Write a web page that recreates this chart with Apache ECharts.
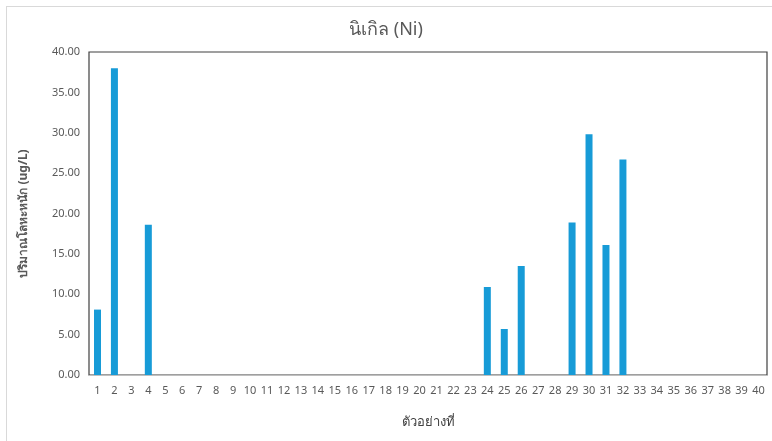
<!DOCTYPE html>
<html>
<head>
<meta charset="utf-8">
<script src="https://cdn.jsdelivr.net/npm/echarts@6/dist/echarts.min.js"></script>
<style>
html,body{margin:0;padding:0;background:#fff;}
#wrap{position:absolute;left:6px;top:6px;width:780px;height:440px;border:1px solid #d9d9d9;box-sizing:border-box;}
#chart{position:absolute;left:0;top:0;width:772px;height:441px;}
</style>
</head>
<body>
<div id="wrap"></div>
<div id="chart"></div>
<script>
const categories = [];
for (let i = 1; i <= 40; i++) categories.push(String(i));
const sampleIds = [1, 2, 4, 24, 25, 26, 29, 30, 31, 32];
const nickelValues = [8.1, 38.0, 18.6, 10.9, 5.7, 13.5, 18.9, 29.8, 16.1, 26.7];
const yTicks = { min: 0, max: 40, interval: 5 };

const seriesData = categories.map(c => {
  const idx = sampleIds.indexOf(Number(c));
  return idx >= 0 ? nickelValues[idx] : null;
});

const chart = echarts.init(document.getElementById('chart'), null, { renderer: 'canvas' });
chart.setOption({
  backgroundColor: 'transparent',
  animation: false,
  title: {
    text: 'นิเกิล (Ni)',
    left: 'center',
    top: 16,
    textStyle: { fontFamily: 'Noto Sans', fontSize: 18, fontWeight: 'normal', color: '#595959' }
  },
  grid: {
    left: 89, right: 5, top: 52, bottom: 66,
    show: true, borderColor: '#404040', borderWidth: 1.2, backgroundColor: 'transparent'
  },
  xAxis: {
    type: 'category',
    data: categories,
    name: 'ตัวอย่างที่',
    nameLocation: 'middle',
    nameGap: 41,
    nameTextStyle: { fontFamily: 'Noto Sans', fontSize: 13, color: '#404040' },
    axisLine: { show: true, lineStyle: { color: '#bfbfbf', width: 1 } },
    axisTick: { show: false },
    axisLabel: { fontFamily: 'Noto Sans', fontSize: 11, color: '#595959', interval: 0, margin: 10 }
  },
  yAxis: {
    type: 'value',
    min: yTicks.min, max: yTicks.max, interval: yTicks.interval,
    name: 'ปริมาณโลหะหนัก (ug/L)',
    nameLocation: 'middle',
    nameGap: 59,
    nameRotate: 90,
    nameTextStyle: { fontFamily: 'Noto Sans', fontSize: 12, fontWeight: 'bold', color: '#595959' },
    axisLine: { show: false },
    axisTick: { show: false },
    splitLine: { show: false },
    axisLabel: {
      fontFamily: 'Noto Sans', fontSize: 11, color: '#595959', margin: 9,
      formatter: v => v.toFixed(2)
    }
  },
  series: [{
    type: 'bar',
    data: seriesData,
    barWidth: 7,
    itemStyle: { color: '#179bd7' }
  }]
});
</script>
</body>
</html>
